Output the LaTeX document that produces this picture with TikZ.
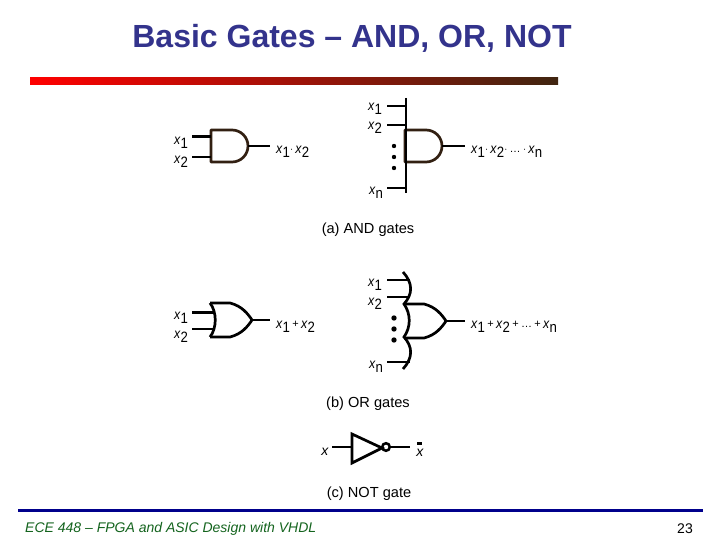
\documentclass[tikz,border=0pt]{standalone}
\usepackage{fontspec}
\setmainfont{Liberation Sans}
\definecolor{titleblue}{RGB}{51,51,140}
\definecolor{rulebrown}{RGB}{64,37,16}
\definecolor{rulenavy}{RGB}{0,0,140}
\definecolor{footgreen}{RGB}{20,100,30}
\definecolor{gatebrown}{RGB}{50,32,18}
\newcommand{\xs}[1]{\scalebox{.88}[1]{\textit{x}\raisebox{-4pt}{\fontsize{15}{15}\selectfont #1}}}
\newcommand{\opr}[1]{\raisebox{1.5pt}{\fontsize{11}{11}\selectfont #1}}
\tikzset{
  lbl/.style={inner sep=0pt,font=\fontsize{14}{16}\selectfont},
  gatecap/.style={inner sep=0pt,font=\fontsize{14.6}{16}\selectfont},
  wire/.style={line width=2pt},
  thickwire/.style={line width=3pt},
  outwire/.style={line width=1.7pt},
  pics/andgate/.style={code={
    \draw[line width=2.7pt,draw=gatebrown,line join=round] (0,-16) -- (21,-16) arc[start angle=-90,end angle=90,radius=16] -- (0,16) -- cycle;
    \coordinate (-in) at (0,0);
    \coordinate (-tip) at (37,0);
  }},
  pics/orgate/.style={code={
    \draw[line width=2.7pt,line join=round] (0,-17) -- (20,-17) .. controls (32,-14) and (38,-6) .. (42,0) .. controls (38,6) and (32,14) .. (20,17) -- (0,17);
    \coordinate (-tip) at (42,0);
  }}
}
\begin{document}
\begin{tikzpicture}[x=1pt,y=-1pt]
  \useasboundingbox (0,0) rectangle (720,540);
  \fill[white] (0,0) rectangle (720,540);
  % heading and footer
  \node (title) at (352,38) [inner sep=0pt,text=titleblue,font=\fontsize{32}{36}\selectfont\bfseries] {Basic Gates -- AND, OR, NOT};
  \shade[left color=red,right color=rulebrown] (30,78) rectangle (558,85);
  \fill[rulenavy] (18,509) rectangle (703,512);
  \node (foot) at (25,529) [anchor=west,inner sep=0pt,text=footgreen,font=\fontsize{14}{16}\selectfont\itshape] {ECE 448 -- FPGA and ASIC Design with VHDL};
  \node (page) at (685,529) [inner sep=0pt,font=\fontsize{14}{16}\selectfont] {23};
  % (a) AND gates
  \pic (anda) at (211,146) {andgate};
  \coordinate (anda1) at (192,137); \coordinate (anda1e) at (211,137);
  \coordinate (anda2) at (192,157); \coordinate (anda2e) at (211,157);
  \coordinate (andaout) at (270,146);
  \draw[thickwire] (anda1) -- (anda1e);
  \draw[wire] (anda2) -- (anda2e);
  \draw[outwire] (anda-tip) -- (andaout);
  \node[lbl] (la1) at (181,143) {\xs{1}};
  \node[lbl] (la2) at (181,162) {\xs{2}};
  \node[lbl,anchor=west] (laout) at (276,152) {\xs{1}\opr{$\cdot$}\,\xs{2}};
  \pic (andb) at (405,146) {andgate};
  \coordinate (busat) at (406,98); \coordinate (busab) at (406,193);
  \coordinate (andb1) at (387,106); \coordinate (andb1e) at (406,106);
  \coordinate (andb2) at (387,125); \coordinate (andb2e) at (406,125);
  \coordinate (andbn) at (387,188); \coordinate (andbne) at (406,188);
  \coordinate (andbout) at (465,146);
  \draw[wire] (busat) -- (busab);
  \draw[wire] (andb1) -- (andb1e);
  \draw[wire] (andb2) -- (andb2e);
  \draw[wire] (andbn) -- (andbne);
  \draw[outwire] (andb-tip) -- (andbout);
  \foreach \y in {146,157,168} \fill (394,\y) circle (2.2);
  \node[lbl] (lb1) at (375,109) {\xs{1}};
  \node[lbl] (lb2) at (375,128) {\xs{2}};
  \node[lbl] (lbn) at (376,193) {\xs{n}};
  \node[lbl,anchor=west] (lbout) at (471,152) {\xs{1}\opr{$\cdot$}\,\xs{2}\opr{$\cdot$}\,\opr{\dots}\,\opr{$\cdot$}\,\xs{n}};
  \node[gatecap] (capa) at (368,230) {(a) AND gates};
  % (b) OR gates
  \pic (ora) at (210,320) {orgate};
  \coordinate (ora1) at (192,312); \coordinate (ora1e) at (213,312);
  \coordinate (ora2) at (192,329); \coordinate (ora2e) at (213,329);
  \coordinate (oraout) at (270,320);
  \draw[line width=2.7pt] (210,303) .. controls (217,312) and (217,328) .. (210,337);
  \draw[thickwire] (ora1) -- (ora1e);
  \draw[wire] (ora2) -- (ora2e);
  \draw[outwire] (ora-tip) -- (oraout);
  \node[lbl] (lc1) at (181,318) {\xs{1}};
  \node[lbl] (lc2) at (181,337) {\xs{2}};
  \node[lbl,anchor=west] (lcout) at (276,327) {\xs{1}\,\opr{+}\,\xs{2}};
  \pic (orb) at (404,321) {orgate};
  \draw[line width=2.7pt] (403,272) .. controls (413,283) and (413,294) .. (404,304) .. controls (411,314) and (411,327) .. (404,337) .. controls (413,347) and (413,358) .. (403,369);
  \coordinate (orb1) at (387,280); \coordinate (orb1e) at (410,280);
  \coordinate (orb2) at (387,297); \coordinate (orb2e) at (410,297);
  \coordinate (orbn) at (387,362); \coordinate (orbne) at (410,362);
  \coordinate (orbout) at (465,321);
  \draw[wire] (orb1) -- (orb1e);
  \draw[wire] (orb2) -- (orb2e);
  \draw[wire] (orbn) -- (orbne);
  \draw[outwire] (orb-tip) -- (orbout);
  \foreach \y in {318,329,340} \fill (394,\y) circle (2.7);
  \node[lbl] (ld1) at (375,285) {\xs{1}};
  \node[lbl] (ld2) at (375,304) {\xs{2}};
  \node[lbl] (ldn) at (376,367) {\xs{n}};
  \node[lbl,anchor=west] (ldout) at (471,327) {\xs{1}\,\opr{+}\,\xs{2}\,\opr{+}\,\opr{\dots}\,\opr{+}\,\xs{n}};
  \node[gatecap] (capb) at (368,404) {(b) OR gates};
  % (c) NOT gate
  \coordinate (notin) at (332,447); \coordinate (notl) at (352,447);
  \coordinate (notr) at (390,447); \coordinate (notout) at (410,447);
  \draw[line width=2.7pt,line join=miter] (352,434) -- (382,448) -- (352,463) -- cycle;
  \draw[line width=2.5pt] (386,447) circle (3.8);
  \draw[wire] (notin) -- (notl);
  \draw[wire] (notr) -- (notout);
  \fill (417,442) rectangle (422,445);
  \node[lbl] (lnotin) at (325,452) {\textit{x}};
  \node[lbl] (lnotout) at (420,453) {\textit{x}};
  \node[gatecap] (capc) at (369,494) {(c) NOT gate};
\end{tikzpicture}
\end{document}
